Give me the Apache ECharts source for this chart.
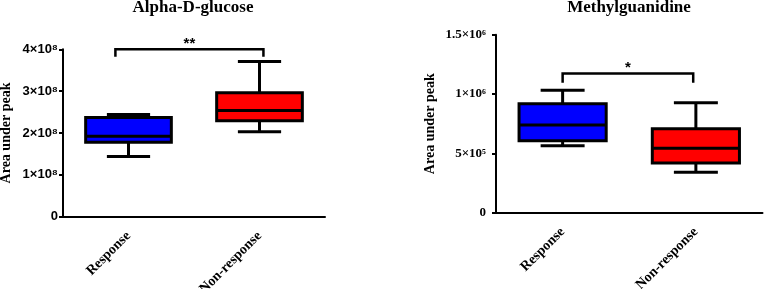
<!DOCTYPE html>
<html>
<head>
<meta charset="utf-8">
<script src="https://cdn.jsdelivr.net/npm/echarts@6/dist/echarts.min.js"></script>
<style>
html, body { margin: 0; padding: 0; background: #fff; }
#main { width: 765px; height: 289px; }
</style>
</head>
<body>
<div id="main"></div>
<script>
var groups = ['Response', 'Non-response'];
var groupColors = ['#0000ff', '#ff0000'];

// box values: [min, Q1, median, Q3, max]
var glucoseBoxes = [
    [1.44e8, 1.78e8, 1.92e8, 2.37e8, 2.44e8],
    [2.03e8, 2.29e8, 2.54e8, 2.96e8, 3.71e8]
];
var mguanBoxes = [
    [5.65e5, 6.07e5, 7.39e5, 9.19e5, 1.032e6],
    [3.41e5, 4.19e5, 5.43e5, 7.08e5, 9.27e5]
];
var glucoseTicks = ['0', '1×10⁸', '2×10⁸', '3×10⁸', '4×10⁸'];
var mguanTicks = ['0', '5×10⁵', '1×10⁶', '1.5×10⁶'];

// significance bracket: [bar level, leg end level]
var glucoseSig = [4.0e8, 3.82e8];
var mguanSig = [1.172e6, 1.096e6];
var sigLabels = ['**', '*'];

var serif = '"Liberation Serif", "Times New Roman", serif';
var sans = '"Liberation Sans", Arial, sans-serif';

function renderBox(params, api) {
    var i = api.value(0);
    var band = api.size([1, 0])[0];
    var half = band * 0.327;
    var cap = band * 0.165;
    var pMin = api.coord([i, api.value(1)]);
    var pQ1 = api.coord([i, api.value(2)]);
    var pMed = api.coord([i, api.value(3)]);
    var pQ3 = api.coord([i, api.value(4)]);
    var pMax = api.coord([i, api.value(5)]);
    var x = pMin[0];
    var ls = { stroke: '#000', lineWidth: 3 };
    return {
        type: 'group',
        children: [
            { type: 'line', shape: { x1: x, y1: pMax[1], x2: x, y2: pQ3[1] }, style: ls },
            { type: 'line', shape: { x1: x, y1: pQ1[1], x2: x, y2: pMin[1] }, style: ls },
            { type: 'line', shape: { x1: x - cap, y1: pMax[1], x2: x + cap, y2: pMax[1] }, style: ls },
            { type: 'line', shape: { x1: x - cap, y1: pMin[1], x2: x + cap, y2: pMin[1] }, style: ls },
            {
                type: 'rect',
                shape: { x: x - half, y: pQ3[1], width: half * 2, height: pQ1[1] - pQ3[1] },
                style: { fill: groupColors[i], stroke: '#000', lineWidth: 3 }
            },
            { type: 'line', shape: { x1: x - half, y1: pMed[1], x2: x + half, y2: pMed[1] }, style: ls }
        ]
    };
}

function makeBracket(label, offL, offR) {
    return function (params, api) {
        var a = api.coord([0, api.value(0)]);
        var b = api.coord([1, api.value(0)]);
        var e = api.coord([0, api.value(1)]);
        var step = b[0] - a[0];
        var x1 = a[0] + step * offL;
        var x2 = b[0] + step * offR;
        var ls = { stroke: '#000', lineWidth: 2.5, fill: null };
        return {
            type: 'group',
            children: [
                {
                    type: 'polyline',
                    shape: { points: [[x1, e[1]], [x1, a[1]], [x2, a[1]], [x2, e[1]]] },
                    style: ls
                },
                {
                    type: 'text',
                    style: {
                        text: label, x: (x1 + x2) / 2, y: a[1] + 2,
                        align: 'center', verticalAlign: 'bottom',
                        fontSize: 15, fontWeight: 'bold', fontFamily: sans, fill: '#000'
                    }
                }
            ]
        };
    };
}

function boxData(boxes) {
    return boxes.map(function (b, i) { return [i].concat(b); });
}

function xAxisFor(gi) {
    return {
        type: 'category', gridIndex: gi, data: groups,
        axisLine: { lineStyle: { color: '#000', width: 2 } },
        axisTick: { alignWithLabel: true, length: 4, lineStyle: { color: '#000', width: 2 } },
        axisLabel: {
            rotate: 45, margin: 17, color: '#000',
            fontFamily: serif, fontWeight: 'bold', fontSize: 14
        }
    };
}

function yAxisFor(gi, max, step, ticks, font, gap, margin) {
    return {
        type: 'value', gridIndex: gi, min: 0, max: max, interval: step,
        name: 'Area under peak', nameLocation: 'middle', nameGap: gap,
        nameTextStyle: { fontFamily: serif, fontWeight: 'bold', fontSize: 14, color: '#000' },
        splitLine: { show: false },
        axisLine: { show: true, lineStyle: { color: '#000', width: 2 } },
        axisTick: { show: true, length: 4, lineStyle: { color: '#000', width: 2 } },
        axisLabel: {
            margin: margin, color: '#000', fontFamily: font, fontWeight: 'bold', fontSize: 13,
            formatter: function (v) { return ticks[Math.round(v / step)]; }
        }
    };
}

var myChart = echarts.init(document.getElementById('main'));
var option = {
    animation: false,
    backgroundColor: '#fff',
    title: [
        {
            text: 'Alpha-D-glucose', left: 193, top: -1, textAlign: 'center', padding: 0,
            textStyle: { fontFamily: serif, fontWeight: 'bold', fontSize: 17, color: '#000' }
        },
        {
            text: 'Methylguanidine', left: 629, top: -1, textAlign: 'center', padding: 0,
            textStyle: { fontFamily: serif, fontWeight: 'bold', fontSize: 17, color: '#000' }
        }
    ],
    grid: [
        { left: 63, top: 49.3, width: 262, height: 167.4, outerBoundsMode: 'none' },
        { left: 496, top: 34.7, width: 266.5, height: 178, outerBoundsMode: 'none' }
    ],
    xAxis: [xAxisFor(0), xAxisFor(1)],
    yAxis: [
        yAxisFor(0, 4e8, 1e8, glucoseTicks, sans, 50, 5),
        yAxisFor(1, 1.5e6, 5e5, mguanTicks, serif, 59, 10)
    ],
    series: [
        {
            type: 'custom', xAxisIndex: 0, yAxisIndex: 0,
            data: boxData(glucoseBoxes), encode: { x: 0, y: [1, 2, 3, 4, 5] },
            renderItem: renderBox
        },
        {
            type: 'custom', xAxisIndex: 1, yAxisIndex: 1,
            data: boxData(mguanBoxes), encode: { x: 0, y: [1, 2, 3, 4, 5] },
            renderItem: renderBox
        },
        {
            type: 'custom', xAxisIndex: 0, yAxisIndex: 0,
            data: [glucoseSig], encode: { y: [0, 1] },
            renderItem: makeBracket(sigLabels[0], -0.1, 0.03)
        },
        {
            type: 'custom', xAxisIndex: 1, yAxisIndex: 1,
            data: [mguanSig], encode: { y: [0, 1] },
            renderItem: makeBracket(sigLabels[1], 0, -0.02)
        }
    ]
};
myChart.setOption(option);
</script>
</body>
</html>
